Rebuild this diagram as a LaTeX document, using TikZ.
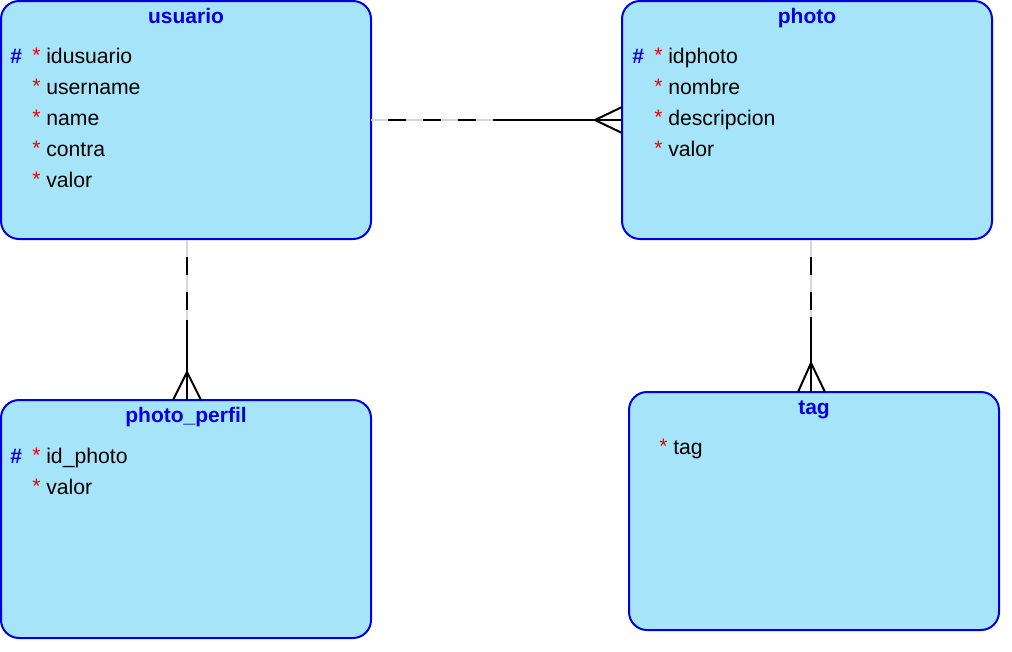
\documentclass[tikz,border=0pt]{standalone}
\usepackage{fontspec}
\setmainfont{Liberation Sans}
\definecolor{boxfill}{RGB}{166,228,250}
\definecolor{boxline}{RGB}{0,0,225}
\definecolor{titleblue}{RGB}{0,0,220}
\definecolor{starred}{RGB}{235,0,0}
\definecolor{lightgap}{RGB}{215,215,215}
\tikzset{
  entity/.style={draw=boxline, fill=boxfill, line width=1.5pt, rounded corners=13.5pt,
    anchor=north west, inner sep=0pt, outer sep=0pt, minimum width=277.5pt, minimum height=178.5pt},
  etitle/.style={anchor=base, inner sep=0pt, text=titleblue, font=\fontsize{15.75}{18}\bfseries\selectfont},
  attr/.style={anchor=base west, inner sep=0pt, font=\fontsize{15.9}{18}\selectfont},
  pk/.style={anchor=base west, inner sep=0pt, text=titleblue, font=\fontsize{15.75}{18}\bfseries\selectfont},
  star/.style={anchor=base west, inner sep=0pt, text=starred, font=\fontsize{15.75}{18}\selectfont},
  relgap/.style={draw=lightgap, line width=1.5pt},
  reldash/.style={draw=black, line width=1.5pt, dash pattern=on 13.5pt off 12.75pt, dash phase=13.5pt},
  relsolid/.style={draw=black, line width=1.5pt},
}
\begin{document}
\begin{tikzpicture}[x=0.75pt, y=-0.75pt]
\useasboundingbox (0,0) rectangle (1012,651);

% entities
\node[entity] (usuario) at (1,1) {};
\node[entity] (photo) at (622,1) {};
\node[entity] (perfil) at (1,400) {};
\node[entity] (tag) at (629,392) {};

% usuario
\node[etitle] (t1) at (186,23) {usuario};
\node[pk] (h1) at (10,63) {\#};
\node[star] (s11) at (32,62) {*};
\node[attr] (a11) at (46,63) {idusuario};
\node[star] (s12) at (32,93) {*};
\node[attr] (a12) at (46,94) {username};
\node[star] (s13) at (32,124) {*};
\node[attr] (a13) at (46,125) {name};
\node[star] (s14) at (32,155) {*};
\node[attr] (a14) at (46,156) {contra};
\node[star] (s15) at (32,186) {*};
\node[attr] (a15) at (46,187) {valor};

% photo
\node[etitle] (t2) at (807,23) {photo};
\node[pk] (h2) at (632,63) {\#};
\node[star] (s21) at (654,62) {*};
\node[attr] (a21) at (668,63) {idphoto};
\node[star] (s22) at (654,93) {*};
\node[attr] (a22) at (668,94) {nombre};
\node[star] (s23) at (654,124) {*};
\node[attr] (a23) at (668,125) {descripcion};
\node[star] (s24) at (654,155) {*};
\node[attr] (a24) at (668,156) {valor};

% photo_perfil
\node[etitle] (t3) at (186,422) {photo\_perfil};
\node[pk] (h3) at (10,463) {\#};
\node[star] (s31) at (32,462) {*};
\node[attr] (a31) at (46,463) {id\_photo};
\node[star] (s32) at (32,493) {*};
\node[attr] (a32) at (46,494) {valor};

% tag
\node[etitle] (t4) at (814,414) {tag};
\node[star] (s41) at (659,453) {*};
\node[attr] (a41) at (673,454) {tag};

% relation usuario - photo
\coordinate (m1) at (497,120);
\coordinate (c1) at (595,120);
\coordinate (c1a) at (622,107);
\coordinate (c1b) at (622,133);
\draw[relgap] (usuario.east) -- (m1);
\draw[reldash] (usuario.east) -- (m1);
\draw[relsolid] (m1) -- (photo.west);
\draw[relsolid] (c1a) -- (c1) -- (c1b);

% relation usuario - photo_perfil
\coordinate (u2) at (187,240);
\coordinate (m2) at (187,320);
\coordinate (c2) at (187,372);
\coordinate (p2) at (187,400);
\coordinate (c2a) at (173,400);
\coordinate (c2b) at (201,400);
\draw[relgap] (u2) -- (m2);
\draw[reldash] (u2) -- (m2);
\draw[relsolid] (m2) -- (p2);
\draw[relsolid] (c2a) -- (c2) -- (c2b);

% relation photo - tag
\coordinate (u3) at (811,240);
\coordinate (m3) at (811,317);
\coordinate (c3) at (811,363);
\coordinate (p3) at (811,392);
\coordinate (c3a) at (798,392);
\coordinate (c3b) at (825,392);
\draw[relgap] (u3) -- (m3);
\draw[reldash] (u3) -- (m3);
\draw[relsolid] (m3) -- (p3);
\draw[relsolid] (c3a) -- (c3) -- (c3b);
\end{tikzpicture}
\end{document}
